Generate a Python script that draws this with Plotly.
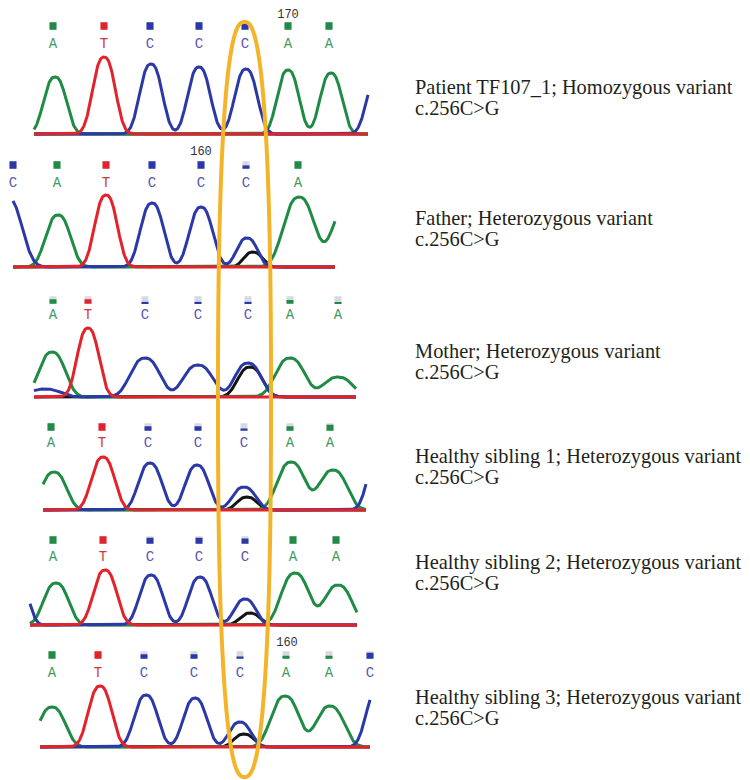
import numpy as np
import plotly.graph_objects as go

PAGE_W, PAGE_H = 750, 780
OFF = 8                      # default body margin of the page the figure sits in
W, H = PAGE_W - OFF, PAGE_H - OFF

# ---------------- data ----------------
# Panel 1 : patient
p1_calls = ["A", "T", "C", "C", "C", "A", "A"]
p1_call_pos = [53, 104, 150, 199, 245, 288, 329]
p1_call_qual = [1, 1, 1, 1, 1, 1, 1]
p1_peak_bases = ["A", "T", "C", "C", "C", "A", "A", "C"]
p1_peak_pos = [55, 104, 151, 199, 246, 288, 331, 378]
p1_peak_height = [57, 77, 70, 67, 65, 64, 61, 58]
p1_peak_width = [14.5, 14.5, 14.5, 14.5, 14.5, 14, 14, 14.5]
p1_scan = [34, 368]
p1_index = ("170", 288)

# Panel 2 : father
p2_calls = ["C", "A", "T", "C", "C", "C", "A"]
p2_call_pos = [13, 57, 106, 152, 201, 246, 298]
p2_call_qual = [1, 1, 1, 1, 1, 0.45, 1]
p2_peak_bases = ["C", "A", "T", "C", "C", "C", "G", "A", "A"]
p2_peak_pos = [7, 58, 106, 152, 201, 247, 253, 299, 348]
p2_peak_height = [70, 52, 72, 64, 60, 29, 15, 70, 63]
p2_peak_width = [19, 16, 14.5, 15, 15, 13.5, 12, 20, 20]
p2_scan = [13, 335]
p2_index = ("160", 201)

# Panel 3 : mother
p3_calls = ["A", "T", "C", "C", "C", "A", "A"]
p3_call_pos = [53, 88, 145, 198, 248, 290, 338]
p3_call_qual = [0.6, 0.6, 0.25, 0.25, 0.25, 0.5, 0.2]
p3_peak_bases = ["C", "A", "T", "C", "C", "C", "G", "A", "A"]
p3_peak_pos = [45, 52, 88, 145, 198, 248, 250, 290, 338]
p3_peak_height = [8, 45, 69, 39, 32, 34, 30, 39, 20]
p3_peak_width = [20, 17, 14, 19, 19, 17, 16, 19, 19]
p3_scan = [34, 356]
p3_index = None

# Panel 4 : healthy sibling 1
p4_calls = ["A", "T", "C", "C", "C", "A", "A"]
p4_call_pos = [51, 102, 148, 198, 244, 290, 330]
p4_call_qual = [1, 1, 0.6, 0.6, 0.3, 0.6, 0.8]
p4_peak_bases = ["A", "T", "C", "C", "C", "G", "A", "A", "C"]
p4_peak_pos = [54, 103, 150, 197, 244, 247, 291, 333, 380]
p4_peak_height = [38, 53, 47, 45, 23, 13, 48, 40, 60]
p4_peak_width = [16, 15, 15, 15, 15, 13, 18, 18, 15]
p4_scan = [43, 366]
p4_index = None

# Panel 5 : healthy sibling 2
p5_calls = ["A", "T", "C", "C", "C", "A", "A"]
p5_call_pos = [53, 103, 150, 199, 245, 293, 336]
p5_call_qual = [1, 1, 0.8, 0.8, 0.7, 1, 1]
p5_peak_bases = ["C", "A", "T", "C", "C", "C", "G", "A", "A"]
p5_peak_pos = [20, 56, 105, 151, 200, 245, 250, 295, 338]
p5_peak_height = [40, 42, 55, 50, 48, 26, 12, 52, 40]
p5_peak_width = [12, 16, 15, 15, 15, 14, 13, 18, 18]
p5_scan = [30, 357]
p5_index = None

# Panel 6 : healthy sibling 3
p6_calls = ["A", "T", "C", "C", "C", "A", "A", "C"]
p6_call_pos = [52, 98, 144, 194, 240, 286, 329, 370]
p6_call_qual = [1, 1, 0.6, 0.6, 0.3, 0.4, 0.4, 0.8]
p6_peak_bases = ["A", "T", "C", "C", "C", "G", "A", "A", "C"]
p6_peak_pos = [52, 100, 146, 195, 240, 244, 285, 330, 378]
p6_peak_height = [40, 61, 52, 49, 25, 13, 51, 41, 58]
p6_peak_width = [17, 15, 15, 15, 14, 13, 18, 18, 15]
p6_scan = [40, 370]
p6_index = ("160", 287)

sample_labels = [
    "Patient TF107_1; Homozygous variant",
    "Father; Heterozygous variant",
    "Mother; Heterozygous variant",
    "Healthy sibling 1; Heterozygous variant",
    "Healthy sibling 2; Heterozygous variant",
    "Healthy sibling 3; Heterozygous variant",
]
variant_label = "c.256C>G"

# ---------------- styles / layout ----------------
TRACE_COL = {"A": "#1f8b45", "T": "#e3232b", "C": "#2b39a8", "G": "#141414"}
LETTER_COL = {"A": "#3f9a63", "T": "#c9383a", "C": "#5656b8", "G": "#333333"}
SQUARE_COL = {"A": "#1f8b45", "T": "#e3232b", "C": "#2b39a8", "G": "#141414"}
DRAW_ORDER = ["G", "A", "C", "T"]
SHAPE_EXP = 2.5
LABEL_FONT_PX = 20.4
LABEL_LINE_PX = 20.5

panels = [
    dict(calls=p1_calls, cpos=p1_call_pos, qual=p1_call_qual, pb=p1_peak_bases,
         pp=p1_peak_pos, ph=p1_peak_height, pw=p1_peak_width, scan=p1_scan, idx=p1_index,
         base_px=134, sq_px=26, let_px=44, num_px=15, top_px=9, text_px=98),
    dict(calls=p2_calls, cpos=p2_call_pos, qual=p2_call_qual, pb=p2_peak_bases,
         pp=p2_peak_pos, ph=p2_peak_height, pw=p2_peak_width, scan=p2_scan, idx=p2_index,
         base_px=267, sq_px=165, let_px=183, num_px=152, top_px=143, text_px=228),
    dict(calls=p3_calls, cpos=p3_call_pos, qual=p3_call_qual, pb=p3_peak_bases,
         pp=p3_peak_pos, ph=p3_peak_height, pw=p3_peak_width, scan=p3_scan, idx=p3_index,
         base_px=397, sq_px=300, let_px=315, num_px=None, top_px=285, text_px=361),
    dict(calls=p4_calls, cpos=p4_call_pos, qual=p4_call_qual, pb=p4_peak_bases,
         pp=p4_peak_pos, ph=p4_peak_height, pw=p4_peak_width, scan=p4_scan, idx=p4_index,
         base_px=510, sq_px=427, let_px=443, num_px=None, top_px=415, text_px=466),
    dict(calls=p5_calls, cpos=p5_call_pos, qual=p5_call_qual, pb=p5_peak_bases,
         pp=p5_peak_pos, ph=p5_peak_height, pw=p5_peak_width, scan=p5_scan, idx=p5_index,
         base_px=625, sq_px=540, let_px=557, num_px=None, top_px=528, text_px=572),
    dict(calls=p6_calls, cpos=p6_call_pos, qual=p6_call_qual, pb=p6_peak_bases,
         pp=p6_peak_pos, ph=p6_peak_height, pw=p6_peak_width, scan=p6_scan, idx=p6_index,
         base_px=747, sq_px=655, let_px=673, num_px=643, top_px=632, text_px=707),
]


def px_to_paper_y(py):
    return 1 - (py - OFF) / H


def px_to_paper_x(px):
    return (px - OFF) / W


fig = go.Figure()
layout_axes = {}
annotations = []
SQ_W, SQ_H = 7, 7.5

for i, P in enumerate(panels):
    yref = "y" if i == 0 else f"y{i + 1}"
    ykey = "yaxis" if i == 0 else f"yaxis{i + 1}"
    b = P["base_px"]
    lo, hi = -5, b - P["top_px"]
    layout_axes[ykey] = dict(
        domain=[px_to_paper_y(b + 5), px_to_paper_y(P["top_px"])],
        range=[lo, hi], visible=False, anchor="x", fixedrange=True,
    )

    # chromatogram traces (sum of peaks per dye channel)
    xs = np.arange(P["scan"][0], P["scan"][1] + 0.25, 0.5)
    for base in DRAW_ORDER:
        sig = np.zeros_like(xs, dtype=float)
        for pb_, pp_, ph_, pw_ in zip(P["pb"], P["pp"], P["ph"], P["pw"]):
            if pb_ == base:
                sig += ph_ * np.exp(-(np.abs(xs - pp_) / pw_) ** SHAPE_EXP)
        fig.add_trace(go.Scatter(
            x=xs, y=sig, mode="lines", xaxis="x", yaxis=yref,
            line=dict(color=TRACE_COL[base], width=3), cliponaxis=False,
            hoverinfo="skip", showlegend=False))

    # quality squares
    n = len(P["calls"])
    sq_c = b - P["sq_px"]
    fig.add_trace(go.Bar(
        x=P["cpos"], y=[SQ_H] * n, base=[sq_c - SQ_H / 2] * n, width=[SQ_W] * n,
        marker=dict(color="#d8d8e2", line=dict(width=0)), cliponaxis=False,
        xaxis="x", yaxis=yref, hoverinfo="skip", showlegend=False))
    fig.add_trace(go.Bar(
        x=P["cpos"], y=[SQ_H * q for q in P["qual"]], base=[sq_c - SQ_H / 2] * n,
        width=[SQ_W] * n, cliponaxis=False,
        marker=dict(color=[SQUARE_COL[c] for c in P["calls"]], line=dict(width=0)),
        xaxis="x", yaxis=yref, hoverinfo="skip", showlegend=False))

    # base call letters
    fig.add_trace(go.Scatter(
        x=P["cpos"], y=[b - P["let_px"]] * n, mode="text", text=P["calls"],
        textfont=dict(family="Liberation Mono", size=14,
                      color=[LETTER_COL[c] for c in P["calls"]]),
        cliponaxis=False,
        xaxis="x", yaxis=yref, hoverinfo="skip", showlegend=False))

    # position index
    if P["idx"] is not None:
        fig.add_trace(go.Scatter(
            x=[P["idx"][1]], y=[b - P["num_px"]], mode="text", text=[P["idx"][0]],
            textfont=dict(family="Liberation Mono", size=12, color="#333333"),
            cliponaxis=False,
            xaxis="x", yaxis=yref, hoverinfo="skip", showlegend=False))

    # sample description: two tight lines in one text block
    span = f'<span style="font-size:{LABEL_FONT_PX}px">'
    annotations.append(dict(
        x=px_to_paper_x(413), y=px_to_paper_y(P["text_px"]), xref="paper", yref="paper",
        xanchor="left", yanchor="middle", align="left", showarrow=False,
        text=f"{span}{sample_labels[i]}</span><br>{span}{variant_label}</span>",
        font=dict(family="Liberation Serif", size=LABEL_LINE_PX / 1.3, color="#231f20")))

# highlight oval (superellipse) around the variant position
cx, cy, a, bb, ne = 244.5, 399.5, 26.5, 377.5, 2.5
t = np.linspace(0, 2 * np.pi, 361)
ct, st = np.cos(t), np.sin(t)
ex = cx + a * np.sign(ct) * np.abs(ct) ** (2 / ne)
ey = cy + bb * np.sign(st) * np.abs(st) ** (2 / ne)
path = "M " + " L ".join(
    f"{px_to_paper_x(x):.5f},{px_to_paper_y(y):.5f}" for x, y in zip(ex, ey)) + " Z"

fig.update_layout(
    width=W, height=H,
    margin=dict(l=0, r=0, t=0, b=0),
    paper_bgcolor="white", plot_bgcolor="white",
    barmode="overlay", showlegend=False,
    xaxis=dict(domain=[0, 1], range=[OFF, OFF + W], visible=False, fixedrange=True),
    annotations=annotations,
    shapes=[dict(type="path", path=path, xref="paper", yref="paper",
                 line=dict(color="#f4b42a", width=4), layer="above")],
    **layout_axes,
)

fig.write_html("out.html")
